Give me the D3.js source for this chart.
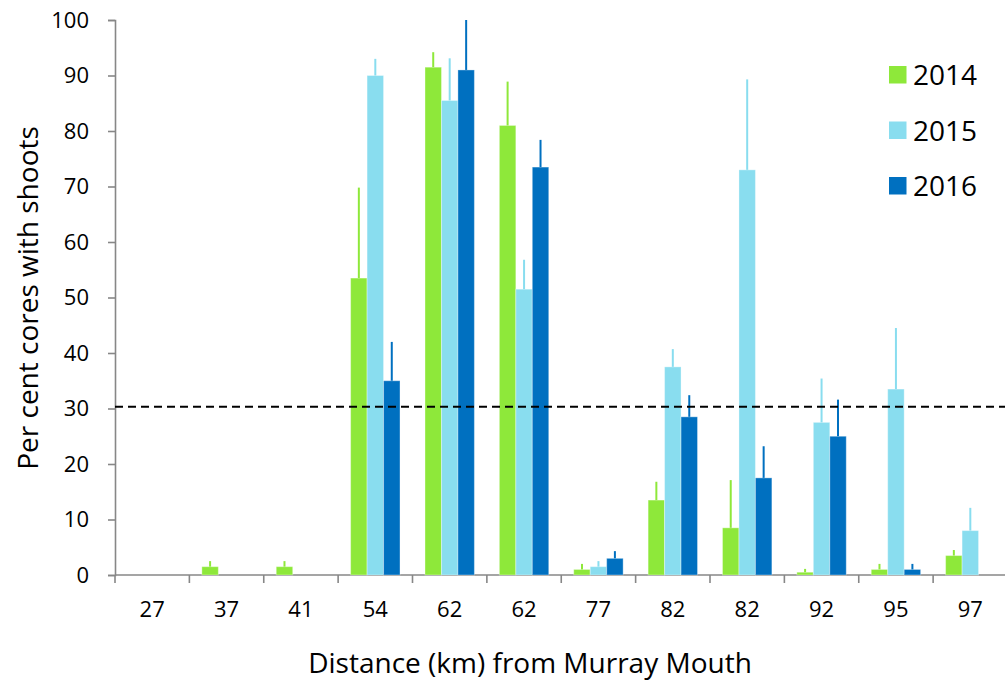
<!DOCTYPE html>
<html>
<head>
<meta charset="utf-8">
<script src="https://cdn.jsdelivr.net/npm/d3@7"></script>
<style>
  body { margin: 0; background: #fff; }
  text { font-family: "Open Sans", sans-serif; fill: #000; }
</style>
</head>
<body>
<div id="chart"></div>
<script>
// distances (km) from Murray Mouth, some repeat
var sites = ["27", "37", "41", "54", "62", "62", "77", "82", "82", "92", "95", "97"]
var years = ["2014", "2015", "2016"]
var colors = ["#8ee83a", "#89ddef", "#0070c0"]

var mean2014 = [0, 1.5, 1.5, 53.5, 91.5, 81, 1, 13.5, 8.5, 0.5, 1, 3.5]
var mean2015 = [0, 0, 0, 90, 85.5, 51.5, 1.5, 37.5, 73, 27.5, 33.5, 8]
var mean2016 = [0, 0, 0, 35, 91, 73.5, 3, 28.5, 17.5, 25, 1, 0]
// upper end of error bars
var upper2014 = [0, 2.5, 2.5, 69.8, 94.2, 88.9, 2, 16.8, 17.1, 1.1, 2, 4.5]
var upper2015 = [0, 0, 0, 93, 93.1, 56.8, 2.5, 40.7, 89.3, 35.4, 44.5, 12.1]
var upper2016 = [0, 0, 0, 42, 100, 78.4, 4.3, 32.4, 23.2, 31.6, 2, 0]

var threshold = 30.3
var yTicks = [0, 10, 20, 30, 40, 50, 60, 70, 80, 90, 100]

var width = 1005, height = 684
var plotLeft = 115, plotRight = 1007.5, plotTop = 20, plotBottom = 575

var svg = d3.select("#chart").append("svg")
	.attr("width", width)
	.attr("height", height)

var x = d3.scaleBand()
	.domain(d3.range(sites.length))
	.range([plotLeft, plotRight])
	.paddingInner(0.336)
	.paddingOuter(0.168)

var xBand = d3.scaleLinear().domain([0, sites.length]).range([plotLeft, plotRight])

var y = d3.scaleLinear()
	.domain([0, 100])
	.range([plotBottom, plotTop])

var sub = d3.scaleBand()
	.domain(years)
	.range([0, x.bandwidth()])

var means = [mean2014, mean2015, mean2016]
var uppers = [upper2014, upper2015, upper2016]

var rows = []
years.forEach(function(yr, k){
	sites.forEach(function(s, i){
		rows.push({i: i, year: yr, k: k, v: means[k][i], up: uppers[k][i]})
	})
})

// y axis
var yAxis = svg.append("g")
	.attr("transform", "translate(" + plotLeft + ",0)")
	.call(d3.axisLeft(y).tickValues(yTicks).tickSize(7).tickPadding(19))
yAxis.selectAll("text").style("font-size", "22px")

// x axis: ticks between categories
var xAxisG = svg.append("g").attr("transform", "translate(0," + plotBottom + ")")
xAxisG.append("line")
	.attr("x1", plotLeft).attr("x2", width)
xAxisG.selectAll(".tk")
	.data(d3.range(sites.length + 1))
	.enter().append("line")
	.attr("class", "tk")
	.attr("x1", function(d){ return xBand(d) })
	.attr("x2", function(d){ return xBand(d) })
	.attr("y1", 0).attr("y2", 8)
xAxisG.selectAll("text")
	.data(sites)
	.enter().append("text")
	.attr("x", function(d, i){ return x(i) + x.bandwidth()/2 })
	.attr("y", 42)
	.attr("text-anchor", "middle")
	.style("font-size", "22px")
	.text(function(d){ return d })

svg.selectAll(".domain, .tick line, g line")
	.attr("stroke", "#878787")
	.attr("stroke-width", 1.6)

// bars
svg.append("g").selectAll("rect")
	.data(rows.filter(function(d){ return d.v > 0 }))
	.enter().append("rect")
	.attr("x", function(d){ return x(d.i) + sub(d.year) })
	.attr("width", sub.bandwidth())
	.attr("y", function(d){ return y(d.v) })
	.attr("height", function(d){ return y(0) - y(d.v) })
	.attr("fill", function(d){ return colors[d.k] })
	.attr("stroke", "rgba(255,255,255,0.35)")
	.attr("stroke-width", 1)

// error bars (upper only)
svg.append("g").selectAll("line")
	.data(rows.filter(function(d){ return d.up > d.v }))
	.enter().append("line")
	.attr("x1", function(d){ return x(d.i) + sub(d.year) + sub.bandwidth()/2 })
	.attr("x2", function(d){ return x(d.i) + sub(d.year) + sub.bandwidth()/2 })
	.attr("y1", function(d){ return y(d.v) })
	.attr("y2", function(d){ return y(d.up) })
	.attr("stroke", function(d){ return colors[d.k] })
	.attr("stroke-width", 2)

// threshold line
svg.append("line")
	.attr("x1", plotLeft).attr("x2", width)
	.attr("y1", y(threshold)).attr("y2", y(threshold))
	.attr("stroke", "#000")
	.attr("stroke-width", 2)
	.attr("stroke-dasharray", "8,5")

// legend
var legend = svg.append("g").attr("transform", "translate(889,66)")
var li = legend.selectAll("g")
	.data(years)
	.enter().append("g")
	.attr("transform", function(d, i){ return "translate(0," + (i * 55.5) + ")" })
li.append("rect")
	.attr("width", 17.5).attr("height", 17.5)
	.attr("fill", function(d, i){ return colors[i] })
li.append("text")
	.attr("x", 24).attr("y", 19)
	.style("font-size", "28px")
	.text(function(d){ return d })

// axis titles
svg.append("text")
	.attr("x", 530).attr("y", 673)
	.attr("text-anchor", "middle")
	.style("font-size", "28px")
	.text("Distance (km) from Murray Mouth")

svg.append("text")
	.attr("transform", "translate(38,298) rotate(-90)")
	.attr("text-anchor", "middle")
	.style("font-size", "28px")
	.text("Per cent cores with shoots")
</script>
</body>
</html>
